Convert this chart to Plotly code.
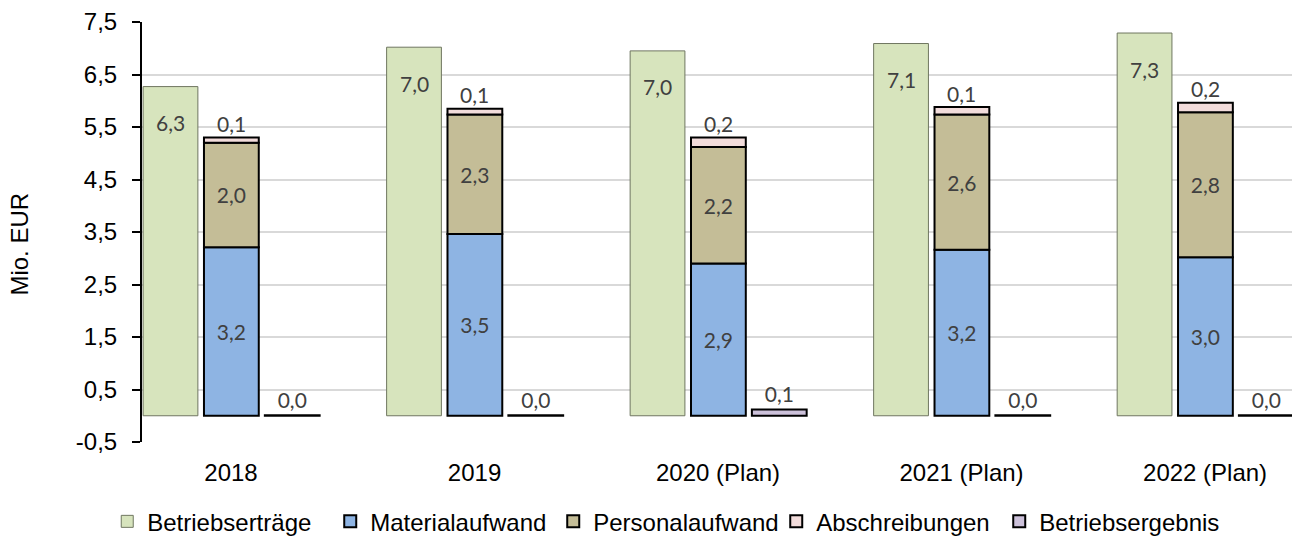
import plotly.graph_objects as go

categories = ["2018", "2019", "2020 (Plan)", "2021 (Plan)", "2022 (Plan)"]
betriebsertraege = [6.27, 7.02, 6.95, 7.09, 7.29]
materialaufwand = [3.21, 3.46, 2.90, 3.16, 3.02]
personalaufwand = [1.99, 2.28, 2.22, 2.58, 2.76]
abschreibungen = [0.10, 0.11, 0.18, 0.14, 0.18]
betriebsergebnis = [0.01, 0.01, 0.12, 0.01, 0.01]

y_ticks = [-0.5, 0.5, 1.5, 2.5, 3.5, 4.5, 5.5, 6.5, 7.5]
y_tick_labels = ["-0,5", "0,5", "1,5", "2,5", "3,5", "4,5", "5,5", "6,5", "7,5"]


def fmt(values):
    return [f"{v:.1f}".replace(".", ",") for v in values]


x = list(range(len(categories)))
bar_w = 0.225
label_font = dict(family="Lato, Noto Sans, sans-serif", size=21, color="#404040")
axis_font = dict(family="Liberation Sans, Arial, sans-serif", size=24, color="#000000")

base_personal = materialaufwand
base_abschr = [m + p for m, p in zip(materialaufwand, personalaufwand)]

fig = go.Figure()

fig.add_trace(go.Bar(
    x=x, y=betriebsertraege, name="Betriebserträge",
    width=bar_w, offset=-0.361,
    marker=dict(color="#D7E4BD", line=dict(color="#6f7660", width=1)),
))
fig.add_trace(go.Bar(
    x=x, y=materialaufwand, name="Materialaufwand",
    width=bar_w, offset=-0.111,
    marker=dict(color="#8EB4E3", line=dict(color="#000000", width=2)),
    text=fmt(materialaufwand), textposition="inside", insidetextanchor="middle",
    textfont=label_font,
))
fig.add_trace(go.Bar(
    x=x, y=personalaufwand, base=base_personal, name="Personalaufwand",
    width=bar_w, offset=-0.111,
    marker=dict(color="#C4BD97", line=dict(color="#000000", width=2)),
    text=fmt(personalaufwand), textposition="inside", insidetextanchor="middle",
    textfont=label_font,
))
fig.add_trace(go.Bar(
    x=x, y=abschreibungen, base=base_abschr, name="Abschreibungen",
    width=bar_w, offset=-0.111,
    marker=dict(color="#F2DCDB", line=dict(color="#000000", width=2)),
))
fig.add_trace(go.Bar(
    x=x, y=betriebsergebnis, name="Betriebsergebnis",
    width=bar_w, offset=0.139,
    marker=dict(color="#CCC1DA", line=dict(color="#000000", width=2)),
    text=fmt(betriebsergebnis), textposition="outside",
    textfont=label_font, cliponaxis=False,
))

# labels for Betriebserträge sit inside, a bit below the bar top
for xi, v, t in zip(x, betriebsertraege, fmt(betriebsertraege)):
    fig.add_annotation(
        x=xi - 0.361 + bar_w / 2, y=v, text=t, showarrow=False,
        yshift=-36, font=label_font,
    )

# labels for Abschreibungen sit just above the stack
for xi, b, v, t in zip(x, base_abschr, abschreibungen, fmt(abschreibungen)):
    fig.add_annotation(
        x=xi - 0.111 + bar_w / 2, y=b + v, text=t, showarrow=False,
        yshift=14, font=label_font,
    )

fig.add_annotation(
    text="Mio. EUR", textangle=-90, showarrow=False,
    xref="paper", yref="paper", x=0, y=0.47, xshift=-122, xanchor="center",
    font=axis_font,
)

x_range = [-0.3655, 4.357]

fig.update_layout(
    template="plotly_white",
    width=1292,
    height=539,
    margin=dict(l=142, r=0, t=22, b=97),
    barmode="overlay",
    showlegend=True,
    plot_bgcolor="white",
    paper_bgcolor="white",
    font=axis_font,
    legend=dict(
        orientation="h", xref="container", yref="container",
        x=0.083, xanchor="left", y=0.032, yanchor="middle",
        font=axis_font, traceorder="normal", entrywidth=178,
    ),
    xaxis=dict(
        range=x_range, tickmode="array", tickvals=x, ticktext=categories,
        showgrid=False, showline=False, zeroline=False, ticks="",
        ticklabelstandoff=14, tickfont=axis_font, automargin=False,
    ),
    xaxis2=dict(
        range=x_range, overlaying="x", anchor="free", position=0.0625,
        tickmode="array", tickvals=[i + 0.625 for i in x[:-1]],
        showticklabels=False, showgrid=False, zeroline=False,
        showline=True, linecolor="#000000", linewidth=2,
        ticks="outside", ticklen=7, tickwidth=2, tickcolor="#000000",
    ),
    yaxis=dict(
        range=[-0.5, 7.5], tickmode="array", tickvals=y_ticks, ticktext=y_tick_labels,
        showgrid=True, gridcolor="#D9D9D9", gridwidth=2, zeroline=False,
        showline=True, linecolor="#000000", linewidth=2,
        ticks="outside", ticklen=8, tickwidth=2, tickcolor="#000000",
        ticklabelstandoff=10, tickfont=axis_font, automargin=False,
    ),
)

fig.write_html(
    "out.html",
    config={"displayModeBar": False},
    post_script="document.body.style.margin = '0';",
)
